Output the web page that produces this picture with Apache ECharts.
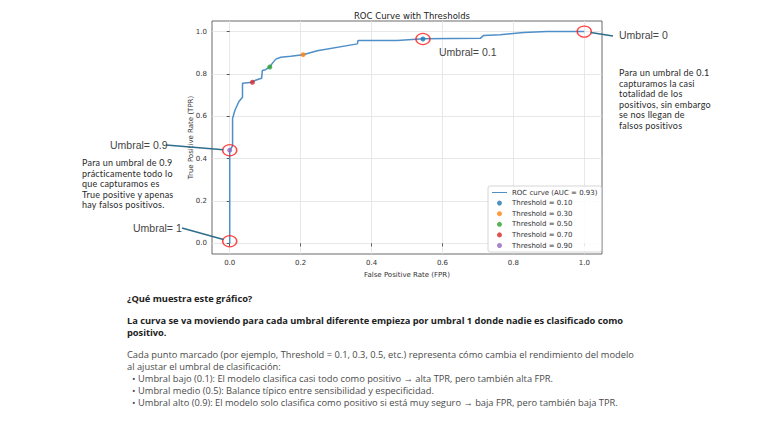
<!DOCTYPE html>
<html>
<head>
<meta charset="utf-8">
<script src="https://cdn.jsdelivr.net/npm/echarts@6.0.0/dist/echarts.min.js"></script>
<style>
    html, body { margin: 0; padding: 0; background: #fff; }
    #page { position: relative; width: 768px; height: 433px; overflow: hidden; }
    #roc_chart { position: absolute; left: 0; top: 0; width: 768px; height: 433px; }
    .callout { position: absolute; font-family: "Liberation Sans", Arial, sans-serif; font-size: 10.5px; color: #444; line-height: 12px; white-space: nowrap; }
    .side_note { position: absolute; font-family: Lato, sans-serif; font-size: 9px; letter-spacing: 0.2px; color: #2a2a2a; line-height: 10.6px; white-space: nowrap; }
    #summary { position: absolute; left: 127px; top: 293px; font-family: "Open Sans", sans-serif; font-size: 9.3px; color: #4a4a4a; line-height: 12px; white-space: nowrap; }
    #summary b { color: #222; letter-spacing: -0.03px; }
    #summary .gap { height: 10px; }
    #summary .item { padding-left: 5px; }
    #summary .item span { display: inline-block; width: 6px; }
</style>
</head>
<body>
<div id="page">
    <div id="roc_chart"></div>

    <div class="callout" style="left:110px;top:139px">Umbral= 0.9</div>
    <div class="callout" style="left:133px;top:222px">Umbral= 1</div>
    <div class="callout" style="left:439px;top:46px">Umbral= 0.1</div>
    <div class="callout" style="left:619px;top:29px">Umbral= 0</div>

    <div class="side_note" style="left:82px;top:158px">
        Para un umbral de 0.9<br>prácticamente todo lo<br>que capturamos es<br>True positive y apenas<br>hay falsos positivos.
    </div>
    <div class="side_note" style="left:619px;top:68px">
        Para un umbral de 0.1<br>capturamos la casi<br>totalidad de los<br>positivos, sin embargo<br>se nos llegan de<br>falsos positivos
    </div>

    <div id="summary">
        <b>¿Qué muestra este gráfico?</b>
        <div class="gap"></div>
        <b>La curva se va moviendo para cada umbral diferente empieza por umbral 1 donde nadie es clasificado como<br>positivo.</b>
        <div class="gap"></div>
        Cada punto marcado (por ejemplo, Threshold = 0.1, 0.3, 0.5, etc.) representa cómo cambia el rendimiento del modelo<br>
        al ajustar el umbral de clasificación:
        <div class="item"><span>•</span>Umbral bajo (0.1): El modelo clasifica casi todo como positivo → alta TPR, pero también alta FPR.</div>
        <div class="item"><span>•</span>Umbral medio (0.5): Balance típico entre sensibilidad y especificidad.</div>
        <div class="item"><span>•</span>Umbral alto (0.9): El modelo solo clasifica como positivo si está muy seguro → baja FPR, pero también baja TPR.</div>
    </div>
</div>

<script>
// curva ROC
var rocName = 'ROC curve (AUC = 0.93)';
var rocFpr = [0, 0, 0.008, 0.008, 0.015, 0.026, 0.036, 0.036, 0.064, 0.071, 0.085, 0.09, 0.092, 0.101, 0.113,
    0.12, 0.13, 0.144, 0.172, 0.207, 0.247, 0.36, 0.362, 0.472, 0.546, 0.707, 0.716, 0.763, 0.829, 0.895, 1.0];
var rocTpr = [0, 0.44, 0.46, 0.59, 0.63, 0.67, 0.69, 0.756, 0.761, 0.769, 0.777, 0.78, 0.816, 0.82, 0.833,
    0.85, 0.87, 0.879, 0.884, 0.891, 0.91, 0.942, 0.958, 0.958, 0.966, 0.968, 0.982, 0.985, 0.996, 1.0, 1.0];

// puntos de umbral
var thresholdNames = ['Threshold = 0.10', 'Threshold = 0.30', 'Threshold = 0.50', 'Threshold = 0.70', 'Threshold = 0.90'];
var thresholdFpr = [0.545, 0.207, 0.113, 0.064, 0.0];
var thresholdTpr = [0.965, 0.891, 0.833, 0.761, 0.44];

// puntos marcados con círculo rojo
var circledFpr = [0, 0, 0.545, 1.0];
var circledTpr = [0.01, 0.44, 0.965, 1.0];

var tickValues = [0, 0.2, 0.4, 0.6, 0.8, 1.0];

var thresholdColors = ['#1f77b4', '#ff7f0e', '#2ca02c', '#d62728', '#9467bd'];

// líneas de las anotaciones: índice del círculo y punto del texto (px)
var callouts = [
    { circle: 0, anchor: [182, 228] },
    { circle: 1, anchor: [166, 145] },
    { circle: 3, anchor: [613, 36] }
];

var chart = echarts.init(document.getElementById('roc_chart'), null, { renderer: 'svg' });
var axisFont = 'DejaVu Sans';

function pairs(xs, ys) {
    return xs.map(function (x, i) { return [x, ys[i]]; });
}

function makeAxis(name, gap, rotate) {
    return {
        type: 'value',
        min: -0.05,
        max: 1.05,
        name: name,
        nameLocation: 'middle',
        nameGap: gap,
        nameRotate: rotate,
        nameMoveOverlap: false,
        nameTextStyle: { fontFamily: axisFont, fontSize: 7, color: '#333' },
        axisLine: { show: false },
        axisTick: { show: true, customValues: tickValues, length: 3, lineStyle: { color: '#333', width: 0.8 } },
        axisLabel: {
            customValues: tickValues,
            margin: 5,
            fontFamily: axisFont,
            fontSize: 7,
            color: '#333',
            formatter: function (v) { return v.toFixed(1); }
        },
        splitLine: { show: true, lineStyle: { color: '#e2e2e2', width: 0.8 } }
    };
}

var series = [{
    name: rocName,
    type: 'line',
    data: pairs(rocFpr, rocTpr),
    symbol: 'none',
    lineStyle: { color: '#4f8fc8', width: 1.5 },
    itemStyle: { color: '#4f8fc8' },
    z: 2
}];

thresholdNames.forEach(function (name, i) {
    series.push({
        name: name,
        type: 'scatter',
        data: [[thresholdFpr[i], thresholdTpr[i]]],
        symbolSize: 5,
        itemStyle: { color: thresholdColors[i] },
        z: 3
    });
});

series.push({
    name: 'circled',
    type: 'scatter',
    data: pairs(circledFpr, circledTpr),
    symbol: 'circle',
    symbolSize: [14, 11],
    itemStyle: { color: 'rgba(0,0,0,0)', borderColor: '#ff1a1a', borderWidth: 1.4 },
    silent: true,
    z: 4
});

var legendData = [{ name: rocName, icon: 'path://M0,0H30V2H0Z' }].concat(thresholdNames.map(function (n) {
    return { name: n, icon: 'circle' };
}));

var option = {
    animation: false,
    title: {
        text: 'ROC Curve with Thresholds',
        left: 407,
        textAlign: 'center',
        top: 6,
        textStyle: { fontFamily: axisFont, fontSize: 8.5, fontWeight: 'normal', color: '#222' }
    },
    grid: {
        left: 212, top: 21, width: 390, height: 233,
        show: true, borderColor: '#444', borderWidth: 0.8, backgroundColor: '#fff'
    },
    xAxis: makeAxis('False Positive Rate (FPR)', 17, 0),
    yAxis: makeAxis('True Positive Rate (TPR)', 18, 90),
    legend: {
        data: legendData,
        orient: 'vertical',
        left: 488,
        top: 186,
        padding: [2, 4, 2, 4],
        itemWidth: 15,
        itemHeight: 5,
        itemGap: 1.6,
        symbolKeepAspect: true,
        borderColor: '#cccccc',
        borderWidth: 0.8,
        borderRadius: 2,
        backgroundColor: 'rgba(255,255,255,0.85)',
        textStyle: { fontFamily: axisFont, fontSize: 7, lineHeight: 9, color: '#333' }
    },
    series: series
};
chart.setOption(option);

// líneas desde el texto hasta el borde del círculo
var lines = callouts.map(function (c) {
    var p = chart.convertToPixel({ gridIndex: 0 }, [circledFpr[c.circle], circledTpr[c.circle]]);
    var dx = c.anchor[0] - p[0], dy = c.anchor[1] - p[1];
    var len = Math.sqrt(dx * dx + dy * dy);
    return {
        type: 'line',
        silent: true,
        z: 10,
        shape: { x1: c.anchor[0], y1: c.anchor[1], x2: p[0] + dx / len * 6.5, y2: p[1] + dy / len * 6.5 },
        style: { stroke: '#2f6d8c', lineWidth: 1.6 }
    };
});
chart.setOption({ graphic: lines });
</script>
</body>
</html>
